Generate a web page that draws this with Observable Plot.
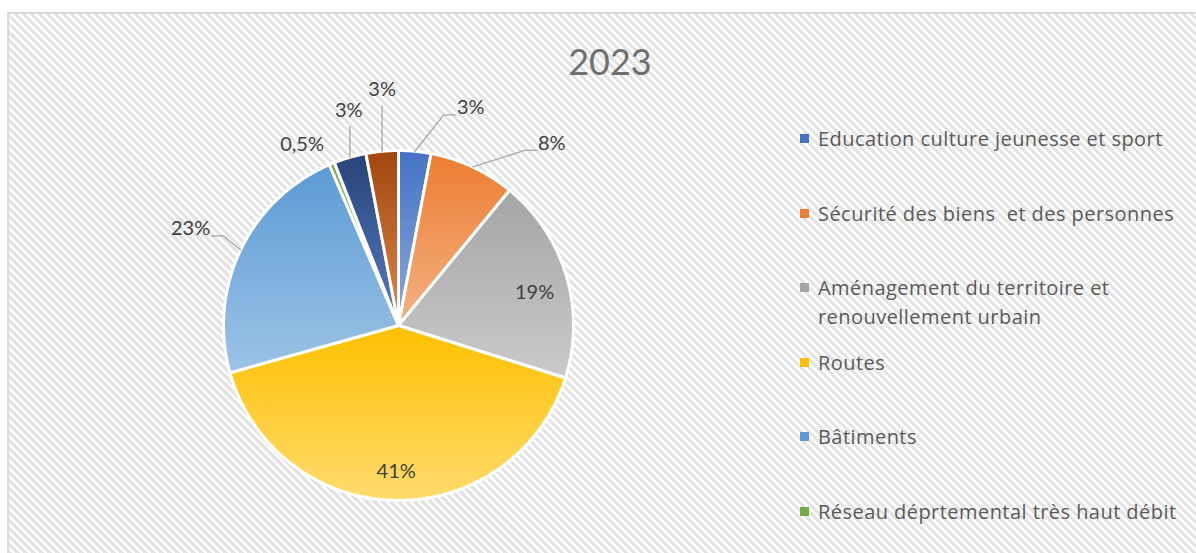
<!DOCTYPE html>
<html>
<head>
<meta charset="utf-8">
<script src="https://cdn.jsdelivr.net/npm/d3@7"></script>
<script src="https://cdn.jsdelivr.net/npm/@observablehq/plot@0.6"></script>
<style>
  html, body { margin: 0; padding: 0; background: #fff; }
  #wrap { position: relative; width: 1196px; height: 553px; overflow: hidden; font-family: Lato, "Open Sans", sans-serif; }
  #frame { position: absolute; left: 7px; top: 12px; width: 1250px; height: 600px;
    border-left: 2px solid #d9d9d9; border-top: 2px solid #d9d9d9;
    background: repeating-linear-gradient(45deg, #ffffff 0px, #ffffff 2.6px, #e3e3e3 2.6px, #e3e3e3 5.66px); }
  #title { position: absolute; left: 410px; width: 400px; top: 39px; text-align: center;
    font-size: 36px; line-height: 44px; color: #6f6f6f; }
  #chart { position: absolute; left: 0; top: 0; }
  #legend { position: absolute; left: 800px; top: 124px; }
  .item { display: flex; align-items: flex-start; height: 74.5px; }
  .sw { width: 9px; height: 9px; margin-top: 10px; flex: none; }
  .lt { margin-left: 9px; width: 380px; font-family: "Open Sans", Lato, sans-serif; font-size: 20px; letter-spacing: 0.45px; line-height: 29px; color: #595959; white-space: pre-wrap; }
</style>
</head>
<body>
<div id="wrap">
  <div id="frame"></div>
  <div id="title"></div>
  <div id="chart"></div>
  <div id="legend"></div>
</div>
<script>
// ---------- data ----------
const chartTitle = "2023";
const categories = [
  "Education culture jeunesse et sport",
  "Sécurité des biens  et des personnes",
  "Aménagement du territoire et renouvellement urbain",
  "Routes",
  "Bâtiments",
  "Réseau déprtemental très haut débit",
  null,   // legend entry not visible in the reference
  null    // legend entry not visible in the reference
];
const values = [3, 8, 19, 41, 23, 0.5, 3, 3]; // percent
const colorsTop    = ["#4472C4", "#ED7D31", "#A5A5A5", "#FFC000", "#5B9BD5", "#70AD47", "#264478", "#9E480E"];
const colorsBottom = ["#8EA9DB", "#F4B183", "#CACACA", "#FFDB6E", "#9DC3E6", "#A9D18E", "#5A7CC6", "#E2864A"];

// ---------- label layout (style) ----------
// [placement, angle nudge (deg), radius factor]
const labelLayout = [
  ["out", 13, 1.31], ["out", 15, 1.36], ["in", 3, 0.80], ["in", 0, 0.835],
  ["out", -0.6, 1.31], ["out", -5.7, 1.17], ["out", 3.1, 1.26], ["out", 1.4, 1.35]
];

const W = 1196, H = 553;
const ML = 223, MR = 623, MT = 150, MB = 53;
const R = (W - ML - MR) / 2; // pixels per data unit
const FS = 20;

const fmt = v => (Number.isInteger(v) ? String(v) : String(v).replace(".", ",")) + "%";

const rows = values.map((v, i) => ({i, v, name: categories[i]}));
const arcs = d3.pie().sort(null).value(d => d.v)(rows);

// slice polygons
const polys = [];
arcs.forEach((a, i) => {
  polys.push({k: i, x: 0, y: 0});
  const n = Math.max(2, Math.ceil((a.endAngle - a.startAngle) / 0.01));
  for (let j = 0; j <= n; j++) {
    const t = a.startAngle + (a.endAngle - a.startAngle) * j / n;
    polys.push({k: i, x: Math.sin(t), y: Math.cos(t)});
  }
});

// labels and leader lines
const labels = [];
const leaders = [];
arcs.forEach((a, i) => {
  const [place, nudge, rf] = labelLayout[i];
  const m = (a.startAngle + a.endAngle) / 2;
  const ang = m + nudge * Math.PI / 180;
  const L = {x: rf * Math.sin(ang), y: rf * Math.cos(ang)};
  const txt = fmt(values[i]);
  labels.push({x: L.x, y: L.y, t: txt});
  if (place !== "out") return;
  const E = {x: Math.sin(m), y: Math.cos(m)};
  const hw = txt.length * 0.3 * FS / R, hh = 0.5 * FS / R;
  let pts;
  if (L.x - hw > E.x + 8 / R) {
    const at = {x: L.x - hw - 3 / R, y: L.y - 7 / R};
    pts = [E, {x: at.x - 12 / R, y: at.y}, at];
  } else if (L.x + hw < E.x - 8 / R) {
    const at = {x: L.x + hw + 3 / R, y: L.y - 7 / R};
    pts = [E, {x: at.x + 12 / R, y: at.y}, at];
  } else {
    const top = {x: E.x, y: L.y - hh - 6 / R};
    pts = [E, top];
  }
  let len = 0;
  for (let j = 1; j < pts.length; j++) len += Math.hypot(pts[j].x - pts[j-1].x, pts[j].y - pts[j-1].y);
  if (len * R < 15) return;
  pts.forEach(p => leaders.push({k: i, x: p.x, y: p.y}));
});

const plot = Plot.plot({
  width: W, height: H,
  marginLeft: ML, marginRight: MR, marginTop: MT, marginBottom: MB,
  x: {domain: [-1, 1], axis: null},
  y: {domain: [-1, 1], axis: null},
  color: {type: "identity"},
  style: {background: "transparent", overflow: "visible", fontFamily: "Lato, 'Open Sans', sans-serif"},
  marks: [
    Plot.line(polys, {x: "x", y: "y", z: "k", fill: d => `url(#grad${d.k})`, stroke: "white",
      strokeWidth: 3, strokeLinejoin: "round", curve: "linear-closed"}),
    Plot.line(leaders, {x: "x", y: "y", z: "k", stroke: "#a6a6a6", strokeWidth: 1.3}),
    Plot.text(labels, {x: "x", y: "y", text: "t", fontSize: FS, fill: "#404040"})
  ]
});

// gradient defs
const defs = d3.create("svg:defs");
colorsTop.forEach((c, i) => {
  const g = defs.append("linearGradient").attr("id", `grad${i}`)
    .attr("x1", 0).attr("y1", 0).attr("x2", 0).attr("y2", 1);
  g.append("stop").attr("offset", "0%").attr("stop-color", c);
  g.append("stop").attr("offset", "100%").attr("stop-color", colorsBottom[i]);
});
plot.insertBefore(defs.node(), plot.firstChild);
document.getElementById("chart").appendChild(plot);

document.getElementById("title").textContent = chartTitle;

// legend
const leg = d3.select("#legend");
categories.forEach((name, i) => {
  if (!name) return;
  const it = leg.append("div").attr("class", "item");
  it.append("div").attr("class", "sw").style("background", colorsTop[i]);
  it.append("div").attr("class", "lt").text(name);
});
</script>
</body>
</html>
